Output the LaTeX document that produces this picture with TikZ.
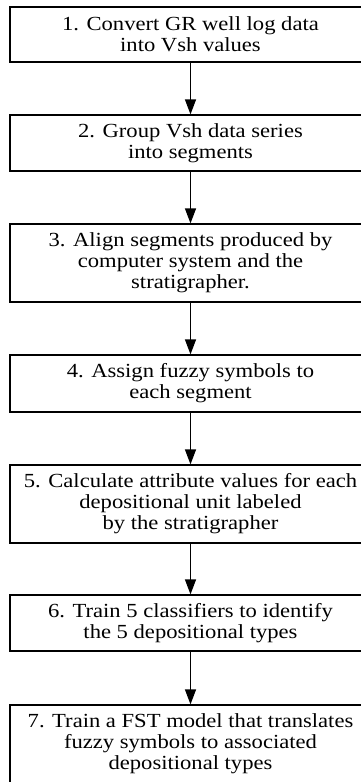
\documentclass[tikz,border=0pt]{standalone}
\usepackage{fontspec}
\setmainfont[FakeStretch=1.13]{Liberation Serif}
\usetikzlibrary{arrows.meta}

\begin{document}
\begin{tikzpicture}[x=1pt, y=1pt,
  stepbox/.style={draw, line width=1.2pt, minimum width=361pt, align=center, inner sep=0pt,
    font=\fontsize{20}{21}\selectfont},
  flow/.style={-{Triangle[length=15pt,width=11pt]}, line width=1.2pt}]
\clip (0,0) rectangle (361,-782);
\node[stepbox, minimum height=55pt] (s1) at (190.5,-34.5) {1. Convert GR well log data\\into Vsh values};
\node[stepbox, minimum height=56pt] (s2) at (190.5,-143) {2. Group Vsh data series\\into segments};
\node[stepbox, minimum height=78pt] (s3) at (190.5,-263) {3. Align segments produced by\\computer system and the\\stratigrapher.};
\node[stepbox, minimum height=57pt] (s4) at (190.5,-383.5) {4. Assign fuzzy symbols to\\each segment};
\node[stepbox, minimum height=78pt] (s5) at (190.5,-504) {5. Calculate attribute values for each\\depositional unit labeled\\by the stratigrapher};
\node[stepbox, minimum height=56pt] (s6) at (190.5,-623) {6. Train 5 classifiers to identify\\the 5 depositional types};
\node[stepbox, minimum height=78pt] (s7) at (190.5,-744) {7. Train a FST model that translates\\fuzzy symbols to associated\\depositional types};
\draw[flow] (s1) -- (s2);
\draw[flow] (s2) -- (s3);
\draw[flow] (s3) -- (s4);
\draw[flow] (s4) -- (s5);
\draw[flow] (s5) -- (s6);
\draw[flow] (s6) -- (s7);
\end{tikzpicture}
\end{document}
